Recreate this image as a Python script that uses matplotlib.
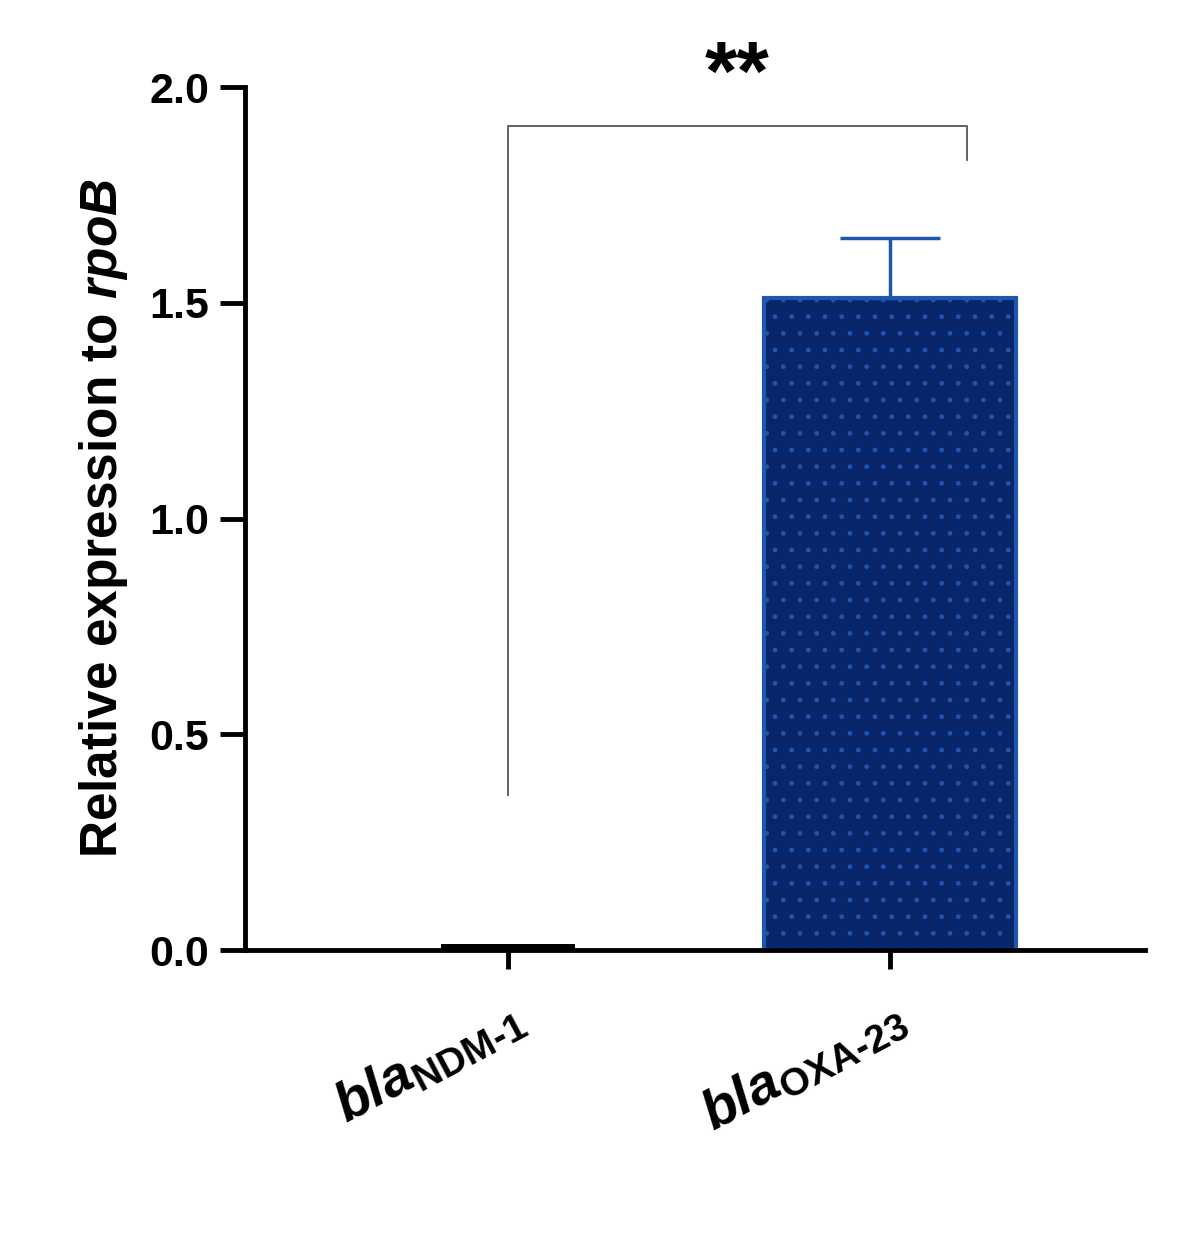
import matplotlib
matplotlib.use("Agg")
import matplotlib.pyplot as plt

categories = [r"$\mathbfit{bla}_{\mathbf{NDM\text{-}1}}$", r"$\mathbfit{bla}_{\mathbf{OXA\text{-}23}}$"]
values = [0.015, 1.51]
errors = [0.0, 0.14]
sig_label = "**"
bracket_left_low = 0.36
bracket_top = 1.91
bracket_right_low = 1.83

plt.rcParams['font.family'] = ['Liberation Sans', 'DejaVu Sans']
plt.rcParams['mathtext.fontset'] = 'custom'
plt.rcParams['mathtext.rm'] = 'Liberation Sans:bold'
plt.rcParams['mathtext.bf'] = 'Liberation Sans:bold'
plt.rcParams['mathtext.it'] = 'Liberation Sans:italic:bold'
plt.rcParams['mathtext.bfit'] = 'Liberation Sans:italic:bold'

fig = plt.figure(figsize=(11.78, 12.43), dpi=100)
ax = fig.add_axes([0.208, 0.2357, 0.764, 0.6943])
x = [0, 1]
ax.bar(x[0], values[0], width=0.35, color='black', zorder=2)
ax.bar(x[1], values[1], width=0.66, color='#08266a', edgecolor='#1f56b0',
       linewidth=3, hatch='.', zorder=2)
ax.errorbar(x[1], values[1], yerr=[[0], [errors[1]]], fmt='none',
            ecolor='#1f56b0', elinewidth=2.5, capsize=36, capthick=2.5, zorder=3)

ax.plot([0, 0, 1.2, 1.2], [bracket_left_low, bracket_top, bracket_top, bracket_right_low],
        color='#555555', lw=1.3, clip_on=False)
ax.text(0.6, 1.93, sig_label, ha='center', va='bottom', fontsize=60, fontweight='bold')

ax.set_xlim(-0.688, 1.667)
ax.set_ylim(0, 2.0)
ax.set_yticks([0, 0.5, 1.0, 1.5, 2.0])
ax.set_yticklabels(['0.0', '0.5', '1.0', '1.5', '2.0'])
ax.set_xticks(x)
ax.set_xticklabels(categories, rotation=28, ha='right', rotation_mode='anchor', fontsize=40)
for s in ['top', 'right']:
    ax.spines[s].set_visible(False)
for s in ['left', 'bottom']:
    ax.spines[s].set_linewidth(3.5)
ax.tick_params(axis='y', width=3.5, length=18, labelsize=31, pad=8)
ax.tick_params(axis='x', width=3.5, length=14, pad=16)
for t in ax.get_yticklabels():
    t.set_fontweight('bold')
ax.set_ylabel(r"Relative expression to $\mathbfit{rpoB}$", fontsize=37, fontweight='bold', labelpad=14)
fig.savefig('out.png', dpi=100)
